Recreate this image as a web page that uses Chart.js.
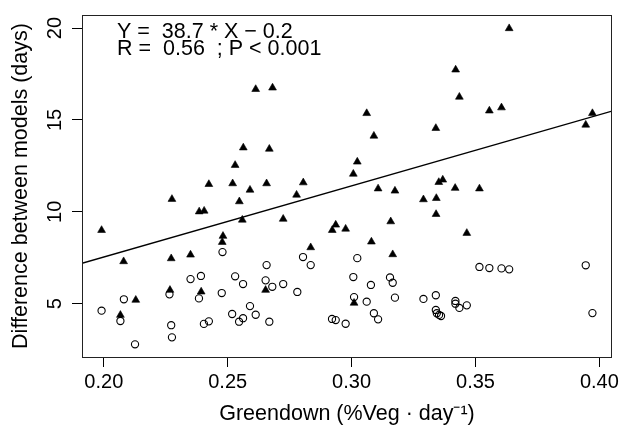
<!DOCTYPE html>
<html>
<head>
<meta charset="utf-8">
<script src="https://cdn.jsdelivr.net/npm/chart.js@4/dist/chart.umd.min.js"></script>
<style>
  html, body { margin: 0; padding: 0; background: #fff; }
  #wrap { width: 620px; height: 426px; }
</style>
</head>
<body>
<div id="wrap"><canvas id="c" width="620" height="426"></canvas></div>
<script>
// Filled triangles
const triX = [0.1991,0.2080,0.2129,0.2067,0.2272,0.2275,0.2267,0.2350,0.2385,0.2405,0.2393,0.2424,0.2481,0.2478,0.2520,0.2530,0.2547,0.2559,0.2563,0.2590,0.2613,0.2653,0.2657,0.2668,0.2681,0.2724,0.2778,0.2805,0.2835,0.2922,0.2936,0.2976,0.3007,0.3010,0.3023,0.3061,0.3080,0.3090,0.3107,0.3158,0.3166,0.3175,0.3290,0.3340,0.3342,0.3341,0.3352,0.3368,0.3418,0.3420,0.3435,0.3465,0.3516,0.3556,0.3605,0.3636,0.3945,0.3972];
const triY = [9.00,7.30,5.20,4.38,7.46,10.69,5.74,7.66,10.01,10.05,5.65,11.50,8.68,8.35,11.54,12.54,10.56,9.56,13.49,11.19,16.67,5.74,11.54,13.42,16.75,9.61,10.92,11.59,8.06,9.00,9.29,9.07,12.06,5.04,12.72,15.36,8.37,14.13,11.26,9.47,7.68,11.14,10.67,14.55,10.74,9.87,11.61,11.74,11.29,17.73,16.25,8.84,11.26,15.50,15.67,19.98,14.73,15.36];
// Open circles
const circX = [0.1991,0.2081,0.2067,0.2126,0.2272,0.2275,0.2265,0.2350,0.2392,0.2384,0.2404,0.2424,0.2479,0.2476,0.2518,0.2530,0.2562,0.2562,0.2546,0.2590,0.2613,0.2657,0.2653,0.2668,0.2680,0.2724,0.2781,0.2804,0.2835,0.3023,0.3007,0.3078,0.3010,0.3061,0.3090,0.3107,0.2921,0.2936,0.2976,0.3155,0.3166,0.3175,0.3290,0.3340,0.3340,0.3344,0.3353,0.3361,0.3419,0.3419,0.3435,0.3465,0.3516,0.3556,0.3605,0.3636,0.3945,0.3972];
const circY = [4.62,5.24,4.06,2.79,3.83,3.17,5.51,6.34,6.51,5.29,3.90,4.04,7.81,5.58,4.44,6.49,6.07,4.21,4.02,4.87,4.40,7.10,6.27,4.02,5.92,6.07,5.64,7.54,7.10,7.48,6.45,6.02,5.36,5.11,4.48,4.15,4.17,4.11,3.91,6.43,6.14,5.33,5.26,5.46,4.66,4.48,4.39,4.33,5.15,5.00,4.77,4.91,7.00,6.94,6.92,6.87,7.09,4.49];
// Regression line end points (Y = 38.7*X - 0.2 across the plot)
const lineX = [0.1912, 0.4051];
const lineY = [7.20, 15.48];
// Ticks
const xTicks = [0.20, 0.25, 0.30, 0.35, 0.40];
const yTicks = [5, 10, 15, 20];
const xRange = [0.1912, 0.4051];
const yRange = [2.10, 20.71];
const annotLines = ["Y =  38.7 * X \u2212 0.2", "R =  0.56  ; P < 0.001"];
const xTitle = "Greendown (%Veg \u00b7 day\u207b\u00b9)";
const yTitle = "Difference between models (days)";

const FONT = "'Liberation Sans', Arial, Helvetica, sans-serif";
const toPts = (xs, ys) => xs.map((x, i) => ({x: x, y: ys[i]}));

const framePlugin = {
  id: 'frame',
  afterDraw(chart) {
    const {ctx, chartArea: a} = chart;
    ctx.save();
    ctx.strokeStyle = '#222';
    ctx.lineWidth = 1;
    ctx.strokeRect(Math.round(a.left) + 0.5, Math.round(a.top) + 0.5,
                   Math.round(a.right - a.left) - 1, Math.round(a.bottom - a.top));
    ctx.fillStyle = '#000';
    ctx.font = "21.5px " + FONT;
    ctx.textBaseline = 'alphabetic';
    ctx.textAlign = 'left';
    ctx.fillText(annotLines[0], 117, 37.5);
    ctx.fillText(annotLines[1], 117, 55);
    ctx.restore();
  }
};

new Chart(document.getElementById('c'), {
  type: 'scatter',
  data: {
    datasets: [
      { label: 'fit', type: 'line', data: toPts(lineX, lineY), borderColor: '#000',
        borderWidth: 1.3, pointRadius: 0, fill: false, tension: 0, order: 0 },
      { label: 'tri', data: toPts(triX, triY), pointStyle: 'triangle', pointRadius: 4.5,
        backgroundColor: '#000', borderColor: '#000', borderWidth: 0.6, order: 1 },
      { label: 'circ', data: toPts(circX, circY), pointStyle: 'circle', pointRadius: 3.6,
        backgroundColor: 'rgba(0,0,0,0)', borderColor: '#000', borderWidth: 1.1, order: 2 }
    ]
  },
  options: {
    responsive: false,
    animation: false,
    devicePixelRatio: 1,
    layout: { padding: { top: 15, right: 8, left: 0, bottom: 0 } },
    plugins: { legend: { display: false }, tooltip: { enabled: false } },
    scales: {
      x: {
        type: 'linear', min: xRange[0], max: xRange[1],
        afterBuildTicks: s => { s.ticks = xTicks.map(v => ({value: v})); },
        afterFit: s => { s.height = 69; s.paddingLeft = 0; s.paddingRight = 0; },
        ticks: { color: '#000', font: { family: FONT, size: 20 }, padding: 3,
                 callback: v => Number(v).toFixed(2), maxRotation: 0, autoSkip: false },
        grid: { drawOnChartArea: false, drawTicks: true, tickLength: 10, color: '#000', lineWidth: 1 },
        border: { display: false },
        title: { display: true, text: xTitle, color: '#000',
                 font: { family: FONT, size: 21.5, lineHeight: 1.1 }, padding: { top: 0, bottom: 0 } }
      },
      y: {
        type: 'linear', min: yRange[0], max: yRange[1],
        afterBuildTicks: s => { s.ticks = yTicks.map(v => ({value: v})); },
        afterFit: s => { s.width = 82; s.paddingTop = 0; s.paddingBottom = 0; },
        ticks: { color: '#000', font: { family: FONT, size: 20 }, padding: 5,
                 minRotation: 90, maxRotation: 90, crossAlign: 'center', autoSkip: false },
        grid: { drawOnChartArea: false, drawTicks: true, tickLength: 10, color: '#000', lineWidth: 1 },
        border: { display: false },
        title: { display: true, text: yTitle, color: '#000',
                 font: { family: FONT, size: 21.5, lineHeight: 1.1 }, padding: { top: 9, bottom: 0 } }
      }
    }
  },
  plugins: [framePlugin]
});
</script>
</body>
</html>
